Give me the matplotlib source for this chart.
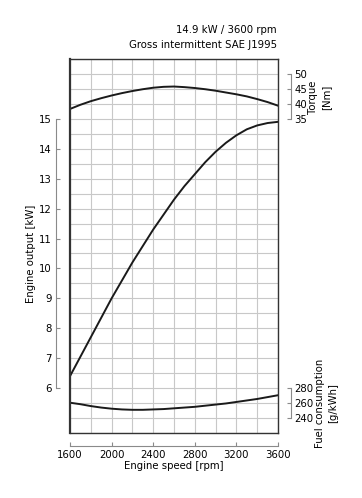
import numpy as np
import matplotlib
matplotlib.use("Agg")
import matplotlib.pyplot as plt

# engine speed [rpm]
rpm = [1600, 1700, 1800, 1900, 2000, 2100, 2200, 2300, 2400, 2500, 2600,
       2700, 2800, 2900, 3000, 3100, 3200, 3300, 3400, 3500, 3600]
# engine output [kW]
output_kw = [6.4, 7.05, 7.7, 8.35, 9.0, 9.6, 10.2, 10.75, 11.3, 11.8, 12.3,
             12.75, 13.15, 13.55, 13.9, 14.2, 14.45, 14.65, 14.78, 14.86, 14.9]
# torque [Nm]
torque_nm = [38.3, 39.7, 40.9, 41.9, 42.8, 43.6, 44.3, 44.9, 45.4, 45.7, 45.8,
             45.6, 45.3, 44.9, 44.4, 43.8, 43.2, 42.5, 41.6, 40.6, 39.4]
# fuel consumption [g/kWh]
fuel_gkwh = [260.5, 258.5, 256.0, 254.0, 252.5, 251.5, 251.0, 251.0, 251.5, 252.0, 253.0,
             254.0, 255.0, 256.5, 258.0, 259.5, 261.5, 263.5, 265.5, 268.0, 270.5]

x_ticks = [1600, 2000, 2400, 2800, 3200, 3600]
kw_ticks = [6, 7, 8, 9, 10, 11, 12, 13, 14, 15]
torque_ticks = [35, 40, 45, 50]
fuel_ticks = [240, 260, 280]

FS = 7.3
SPINE_C = "#8a8a8a"
XLIM = (1600, 3600)
YLIM = (4.5, 17)

fig = plt.figure(figsize=(3.62, 4.98), dpi=100)
pos = [70 / 362, 1 - 433 / 498, 208 / 362, 374 / 498]

# main axes: grid, frame and all curves (in kW units)
ax = fig.add_axes(pos)
ax.set_xlim(*XLIM)
ax.set_ylim(*YLIM)
ax.set_xticks(np.arange(1600, 3601, 200))
ax.set_yticks(np.arange(4.5, 17.01, 0.5))
ax.grid(True, color="#c8c8c8", lw=0.8)
ax.tick_params(length=0, labelleft=False, labelbottom=False)
for s in ax.spines.values():
    s.set_color("#333333")
    s.set_linewidth(1.0)
ax.spines["left"].set_linewidth(1.6)

# conversions onto the kW scale
def tq_to_kw(t):
    return 15 + (np.asarray(t) - 35) / 10.0

def fuel_to_kw(f):
    return 6 + (np.asarray(f) - 280) / 40.0

ax.plot(rpm, output_kw, color="#1a1a1a", lw=1.4)
ax.plot(rpm, tq_to_kw(torque_nm), color="#1a1a1a", lw=1.4)
ax.plot(rpm, fuel_to_kw(fuel_gkwh), color="#1a1a1a", lw=1.4)

# overlay axes for offset left / bottom scales
ov = fig.add_axes(pos)
ov.set_xlim(*XLIM)
ov.set_ylim(*YLIM)
ov.patch.set_visible(False)
for k in ("top", "right"):
    ov.spines[k].set_visible(False)
ov.spines["left"].set_position(("outward", 10))
ov.spines["left"].set_bounds(6, 15)
ov.spines["bottom"].set_position(("outward", 9))
ov.spines["bottom"].set_bounds(1600, 3600)
for k in ("left", "bottom"):
    ov.spines[k].set_color(SPINE_C)
    ov.spines[k].set_linewidth(0.8)
ov.set_yticks(kw_ticks)
ov.set_xticks(x_ticks)
ov.tick_params(direction="in", length=3, color=SPINE_C, labelsize=FS, pad=3)
ov.set_ylabel("Engine output [kW]", fontsize=FS, labelpad=4)
ov.set_xlabel("Engine speed [rpm]", fontsize=FS, labelpad=1)
ov.yaxis.set_label_coords(-0.165, (10.5 - 4.5) / 12.5)

# torque scale
axt = ov.twinx()
axt.patch.set_visible(False)
axt.set_ylim(35 + (YLIM[0] - 15) * 10, 35 + (YLIM[1] - 15) * 10)
for k in ("top", "left", "bottom"):
    axt.spines[k].set_visible(False)
axt.spines["right"].set_position(("outward", 9))
axt.spines["right"].set_bounds(35, 50)
axt.spines["right"].set_color(SPINE_C)
axt.spines["right"].set_linewidth(0.8)
axt.set_yticks(torque_ticks)
axt.tick_params(direction="in", length=3, color=SPINE_C, labelsize=FS, pad=3)

# fuel scale
axf = ov.twinx()
axf.patch.set_visible(False)
axf.set_ylim(280 + (YLIM[0] - 6) * 40, 280 + (YLIM[1] - 6) * 40)
for k in ("top", "left", "bottom"):
    axf.spines[k].set_visible(False)
axf.spines["right"].set_position(("outward", 9))
axf.spines["right"].set_bounds(240, 280)
axf.spines["right"].set_color(SPINE_C)
axf.spines["right"].set_linewidth(0.8)
axf.set_yticks(fuel_ticks)
axf.tick_params(direction="in", length=3, color=SPINE_C, labelsize=FS, pad=3)

fig.text(313 / 362, 1 - 97 / 498, "Torque", rotation=90, fontsize=FS,
         ha="center", va="center")
fig.text(326 / 362, 1 - 97 / 498, "[Nm]", rotation=90, fontsize=FS,
         ha="center", va="center")
fig.text(320 / 362, 1 - 403 / 498, "Fuel consumption", rotation=90, fontsize=FS,
         ha="center", va="center")
fig.text(333 / 362, 1 - 403 / 498, "[g/kWh]", rotation=90, fontsize=FS,
         ha="center", va="center")

fig.text(277 / 362, 1 - 30 / 498, "14.9 kW / 3600 rpm", fontsize=FS,
         ha="right", va="center")
fig.text(277 / 362, 1 - 45 / 498, "Gross intermittent SAE J1995", fontsize=FS,
         ha="right", va="center")

fig.savefig("out.png", dpi=100)
